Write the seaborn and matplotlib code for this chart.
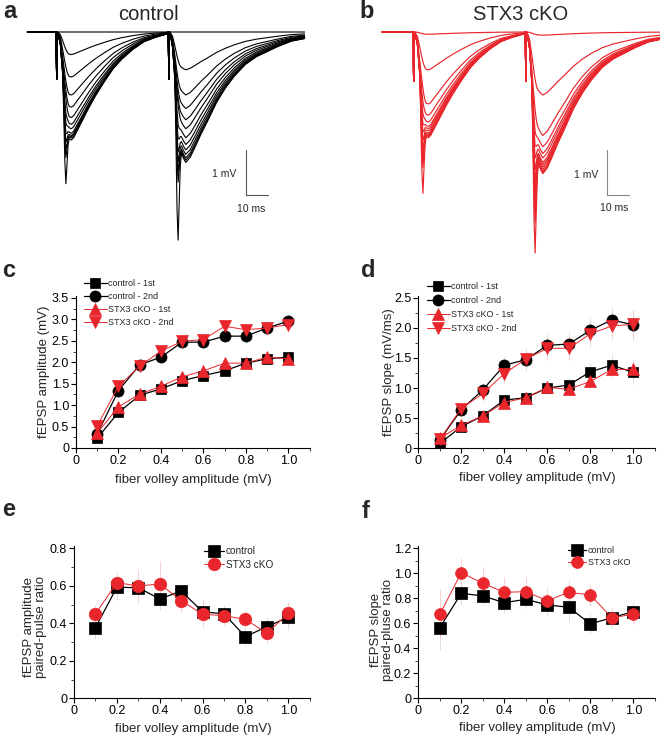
import numpy as np
import pandas as pd
import seaborn as sns
import matplotlib.pyplot as plt
from matplotlib.ticker import MultipleLocator, FuncFormatter

sns.set_style("ticks")
plt.rcParams["font.family"] = ["Liberation Sans", "DejaVu Sans"]

W, H = 660, 736
RED = "#e8262c"

# ---------------- example traces (a, b) ----------------
# normalised waveform shapes (ms after stimulus)
tmpl_t = [0, 0.3, 0.6, 1, 2, 3, 3.5, 4, 4.5, 5, 5.5, 6, 7, 8, 10, 12, 15, 18, 22, 26, 30, 35, 40, 45, 50, 56, 62]
shape1 = [0, 0, 0, -0.02, -0.12, -0.38, -0.52, -0.66, -0.78, -0.88, -0.95, -0.99, -1.0, -0.98, -0.9, -0.82,
          -0.70, -0.59, -0.46, -0.34, -0.25, -0.16, -0.09, -0.05, -0.02, -0.01, 0]
shape2 = [0, 0, 0, -0.02, -0.12, -0.36, -0.5, -0.63, -0.75, -0.84, -0.9, -0.93, -0.97, -1.0, -0.96, -0.89,
          -0.78, -0.68, -0.54, -0.43, -0.34, -0.25, -0.19, -0.15, -0.11, -0.07, -0.05]
spike_shape = [0, 0, 0, 0, 0, 0, -0.35, -0.85, -1.0, -0.55, -0.15, 0, 0, 0, 0, 0,
               0, 0, 0, 0, 0, 0, 0, 0, 0, 0, 0]
art_shape = [0, -1.0, 0, 0, 0, 0, 0, 0, 0, 0, 0, 0, 0, 0, 0, 0,
             0, 0, 0, 0, 0, 0, 0, 0, 0, 0, 0]
pulse_gap = 51

# per-trace amplitudes (mV): fEPSP and population spike, 1st and 2nd pulse
ctl_epsp1 = [0.0, 0.5, 1.0, 1.4, 1.67, 1.9, 2.05, 2.15, 2.25, 2.3, 2.33, 2.36, 2.4]
ctl_spike1 = [0, 0, 0, 0, 0, 0, 0.2, 0.35, 0.5, 0.65, 0.8, 0.95, 1.5]
ctl_epsp2 = [0.0, 0.84, 1.4, 1.7, 1.95, 2.15, 2.35, 2.5, 2.62, 2.72, 2.8, 2.85, 2.9]
ctl_spike2 = [0, 0, 0, 0, 0, 0, 0.3, 0.5, 0.7, 0.85, 1.0, 1.2, 2.45]
ctl_art = 1.05

stx_epsp1 = [0.05, 0.84, 1.6, 1.85, 2.0, 2.1, 2.15, 2.2, 2.25, 2.28, 2.3, 2.32, 2.35]
stx_spike1 = [0, 0, 0, 0.1, 0.25, 0.4, 0.55, 0.7, 0.85, 1.0, 1.1, 1.2, 1.75]
stx_epsp2 = [0.07, 1.4, 2.3, 2.55, 2.7, 2.8, 2.9, 2.95, 3.0, 3.05, 3.1, 3.12, 3.15]
stx_spike2 = [0, 0, 0, 0.3, 0.5, 0.7, 0.9, 1.1, 1.3, 1.5, 1.7, 1.9, 2.55]
stx_art = 1.1

# ---------------- input-output and paired-pulse data ----------------
fv = [0.1, 0.2, 0.3, 0.4, 0.5, 0.6, 0.7, 0.8, 0.9, 1.0]

amp_ctl_1st = [0.23, 0.83, 1.23, 1.38, 1.57, 1.69, 1.80, 1.98, 2.08, 2.12]
amp_ctl_2nd = [0.33, 1.34, 1.94, 2.12, 2.47, 2.47, 2.61, 2.61, 2.80, 2.96]
amp_stx_1st = [0.35, 0.96, 1.26, 1.44, 1.66, 1.80, 1.98, 1.98, 2.12, 2.08]
amp_stx_2nd = [0.52, 1.44, 1.91, 2.26, 2.49, 2.53, 2.84, 2.76, 2.80, 2.88]
amp_ctl_1st_err = [0.03, 0.06, 0.07, 0.08, 0.08, 0.09, 0.10, 0.10, 0.11, 0.12]
amp_ctl_2nd_err = [0.05, 0.10, 0.10, 0.12, 0.12, 0.13, 0.14, 0.15, 0.15, 0.16]
amp_stx_1st_err = [0.04, 0.07, 0.08, 0.09, 0.09, 0.10, 0.10, 0.11, 0.12, 0.12]
amp_stx_2nd_err = [0.06, 0.10, 0.12, 0.12, 0.13, 0.14, 0.14, 0.15, 0.16, 0.16]

slope_ctl_1st = [0.08, 0.36, 0.54, 0.80, 0.84, 1.00, 1.05, 1.27, 1.38, 1.26]
slope_ctl_2nd = [0.14, 0.64, 0.97, 1.38, 1.47, 1.71, 1.73, 1.96, 2.13, 2.05]
slope_stx_1st = [0.17, 0.38, 0.54, 0.76, 0.84, 1.01, 0.98, 1.11, 1.31, 1.31]
slope_stx_2nd = [0.15, 0.66, 0.91, 1.24, 1.48, 1.66, 1.66, 1.90, 2.03, 2.06]
slope_ctl_1st_err = [0.02, 0.05, 0.07, 0.08, 0.10, 0.10, 0.12, 0.15, 0.18, 0.20]
slope_ctl_2nd_err = [0.03, 0.08, 0.12, 0.15, 0.18, 0.20, 0.20, 0.20, 0.20, 0.25]
slope_stx_1st_err = [0.03, 0.06, 0.07, 0.08, 0.10, 0.10, 0.11, 0.13, 0.15, 0.16]
slope_stx_2nd_err = [0.04, 0.09, 0.12, 0.15, 0.18, 0.20, 0.20, 0.22, 0.22, 0.24]

ppr_amp_ctl = [0.377, 0.592, 0.590, 0.530, 0.572, 0.462, 0.450, 0.329, 0.382, 0.432]
ppr_amp_stx = [0.450, 0.617, 0.599, 0.610, 0.521, 0.448, 0.441, 0.421, 0.347, 0.453]
ppr_amp_ctl_err = [0.06, 0.07, 0.05, 0.06, 0.04, 0.06, 0.05, 0.05, 0.05, 0.07]
ppr_amp_stx_err = [0.05, 0.05, 0.09, 0.12, 0.06, 0.07, 0.05, 0.05, 0.05, 0.06]

ppr_slope_ctl = [0.565, 0.840, 0.819, 0.765, 0.792, 0.747, 0.728, 0.595, 0.645, 0.693]
ppr_slope_stx = [0.672, 1.005, 0.920, 0.848, 0.853, 0.781, 0.848, 0.827, 0.645, 0.672]
ppr_slope_ctl_err = [0.18, 0.09, 0.07, 0.08, 0.07, 0.08, 0.12, 0.08, 0.06, 0.08]
ppr_slope_stx_err = [0.20, 0.12, 0.13, 0.12, 0.12, 0.10, 0.10, 0.09, 0.08, 0.08]


def build_traces(epsp1, spike1, epsp2, spike2, art, t_start):
    rows = []
    for i in range(len(epsp1)):
        rows.append((i, t_start, 0.0))
        for t, s1, sp, a in zip(tmpl_t, shape1, spike_shape, art_shape):
            if t <= 50:
                rows.append((i, t, epsp1[i] * s1 + spike1[i] * sp + art * a))
        for t, s2, sp, a in zip(tmpl_t, shape2, spike_shape, art_shape):
            rows.append((i, t + pulse_gap, epsp2[i] * s2 + spike2[i] * sp + art * a))
    return pd.DataFrame(rows, columns=["trace", "t", "mV"])


fig = plt.figure(figsize=(W / 100, H / 100), dpi=100)


def add_ax(x0, y0, x1, y1):
    return fig.add_axes([x0 / W, 1 - y1 / H, (x1 - x0) / W, (y1 - y0) / H])


def ftext(x, y, s, **kw):
    fig.text(x / W, 1 - y / H, s, **kw)


# ---- a / b ----
ctl_df = build_traces(ctl_epsp1, ctl_spike1, ctl_epsp2, ctl_spike2, ctl_art, -13)
stx_df = build_traces(stx_epsp1, stx_spike1, stx_epsp2, stx_spike2, stx_art, -14)

axa = add_ax(20, 0, 330, 270)
sns.lineplot(data=ctl_df, x="t", y="mV", units="trace", estimator=None, sort=False,
             color="black", lw=0.8, ax=axa)
axa.set_xlim((20 - 56) / 2.2, (330 - 56) / 2.2)
axa.set_ylim(-(270 - 32) / 45, 32 / 45)
axa.plot([86.4, 86.4, 96.4], [-2.62, -3.62, -3.62], color="#555555", lw=0.8)
axa.axis("off")

axb = add_ax(375, 0, 660, 270)
sns.lineplot(data=stx_df, x="t", y="mV", units="trace", estimator=None, sort=False,
             color=RED, lw=0.85, ax=axb)
axb.set_xlim((375 - 413) / 2.2, (660 - 413) / 2.2)
axb.set_ylim(-(270 - 32) / 45, 32 / 45)
axb.plot([88.2, 88.2, 98.2], [-2.62, -3.62, -3.62], color="#888888", lw=0.8)
axb.axis("off")

ftext(148, 14, "control", fontsize=14.5, ha="center", va="center")
ftext(521, 14, "STX3 cKO", fontsize=14.5, ha="center", va="center")
ftext(236, 174, "1 mV", fontsize=7.5, ha="right", va="center")
ftext(251, 209, "10 ms", fontsize=7.5, ha="center", va="center")
ftext(598, 175, "1 mV", fontsize=7.5, ha="right", va="center")
ftext(614, 208, "10 ms", fontsize=7.5, ha="center", va="center")

for lab, x, y in [("a", 10, 12), ("b", 367, 12), ("c", 9, 271), ("d", 368, 271), ("e", 9, 510), ("f", 366, 511)]:
    ftext(x, y, lab, fontsize=17, fontweight="bold", ha="center", va="center")

fmt = FuncFormatter(lambda v, p: "0" if abs(v) < 1e-9 else f"{v:.1f}")


def style_axis(ax, ylim, ymajor, yminor):
    ax.set_xlim(0, 1.1)
    ax.set_ylim(*ylim)
    ax.xaxis.set_major_locator(MultipleLocator(0.2))
    ax.xaxis.set_minor_locator(MultipleLocator(0.1))
    ax.yaxis.set_major_locator(MultipleLocator(ymajor))
    ax.yaxis.set_minor_locator(MultipleLocator(yminor))
    ax.xaxis.set_major_formatter(fmt)
    ax.yaxis.set_major_formatter(fmt)
    ax.tick_params(which="major", direction="out", length=3.5, width=0.8, pad=1.5, labelsize=9, colors="black")
    ax.tick_params(which="minor", direction="out", length=2, width=0.6)
    sns.despine(ax=ax)
    for sp in ("left", "bottom"):
        ax.spines[sp].set_linewidth(0.8)
        ax.spines[sp].set_color("black")
    ax.set_xlabel("")
    ax.set_ylabel("")


def draw_series(ax, series):
    for vals, err, color, ecol, marker, ms, lw, label in series:
        ax.errorbar(fv, vals, yerr=err, fmt="none", ecolor=ecol, elinewidth=0.6, capsize=0, zorder=1)
        sns.lineplot(x=fv, y=vals, ax=ax, color=color, lw=lw, marker=marker, markersize=ms,
                     markeredgecolor=color, markeredgewidth=0.5, label=label, errorbar=None)


def add_legend(ax, x, y, fs, hl, ls):
    ax.legend(loc="upper left", bbox_to_anchor=(x / W, 1 - y / H), bbox_transform=fig.transFigure,
              frameon=False, fontsize=fs, handlelength=hl, handletextpad=0.2, labelspacing=ls,
              borderpad=0, borderaxespad=0)


GREY_ERR = "#d9d9d9"
PINK_ERR = "#f7c9c9"

# ---- c ----
axc = add_ax(76, 448 - 150 * 3.55 / 3.5, 76 + 212.3 * 1.1, 448)
draw_series(axc, [
    (amp_ctl_1st, amp_ctl_1st_err, "black", GREY_ERR, "s", 7.5, 0.9, "control - 1st"),
    (amp_ctl_2nd, amp_ctl_2nd_err, "black", GREY_ERR, "o", 8, 0.9, "control - 2nd"),
    (amp_stx_1st, amp_stx_1st_err, RED, PINK_ERR, "^", 8.5, 0.7, "STX3 cKO - 1st"),
    (amp_stx_2nd, amp_stx_2nd_err, RED, PINK_ERR, "v", 8.5, 0.7, "STX3 cKO - 2nd"),
])
style_axis(axc, (0, 3.55), 0.5, 0.25)
add_legend(axc, 84, 279, 6.5, 2.5, 0.45)
axc.text(-0.137, 0.5, "fEPSP amplitude (mV)", transform=axc.transAxes, rotation=90,
         ha="center", va="center", fontsize=9.5)
ftext(193, 480, "fiber volley amplitude (mV)", fontsize=9.5, ha="center", va="center")

# ---- d ----
axd = add_ax(418.3, 448.3 - 60.24 * 2.53, 418.3 + 215 * 1.1, 448.3)
draw_series(axd, [
    (slope_ctl_1st, slope_ctl_1st_err, "black", GREY_ERR, "s", 7.5, 0.9, "control - 1st"),
    (slope_ctl_2nd, slope_ctl_2nd_err, "black", GREY_ERR, "o", 8, 0.9, "control - 2nd"),
    (slope_stx_1st, slope_stx_1st_err, RED, PINK_ERR, "^", 8.5, 0.7, "STX3 cKO - 1st"),
    (slope_stx_2nd, slope_stx_2nd_err, RED, PINK_ERR, "v", 8.5, 0.7, "STX3 cKO - 2nd"),
])
style_axis(axd, (0, 2.53), 0.5, 0.25)
add_legend(axd, 427, 282, 6.5, 2.5, 0.55)
ftext(389, 372, "fEPSP slope (mV/ms)", fontsize=9.5, ha="center", va="center", rotation=90)
ftext(537, 478, "fiber volley amplitude (mV)", fontsize=9.5, ha="center", va="center")

# ---- e ----
axe = add_ax(74, 698.3 - 187.5 * 0.81, 74 + 214.3 * 1.1, 698.3)
draw_series(axe, [
    (ppr_amp_ctl, ppr_amp_ctl_err, "black", GREY_ERR, "s", 8.5, 0.9, "control"),
    (ppr_amp_stx, ppr_amp_stx_err, RED, PINK_ERR, "o", 9, 0.7, "STX3 cKO"),
])
style_axis(axe, (0, 0.81), 0.2, 0.1)
add_legend(axe, 204, 546, 7.2, 2.0, 0.35)
ftext(35, 627, "fEPSP amplitude\npaired-pulse ratio", fontsize=9.5, ha="center", va="center",
      rotation=90, linespacing=1.05)
ftext(193, 729, "fiber volley amplitude (mV)", fontsize=9.5, ha="center", va="center")

# ---- f ----
axf = add_ax(418.3, 698.3 - 125 * 1.215, 418.3 + 215 * 1.1, 698.3)
draw_series(axf, [
    (ppr_slope_ctl, ppr_slope_ctl_err, "black", GREY_ERR, "s", 8, 0.9, "control"),
    (ppr_slope_stx, ppr_slope_stx_err, RED, PINK_ERR, "o", 8.5, 0.7, "STX3 cKO"),
])
style_axis(axf, (0, 1.215), 0.2, 0.1)
add_legend(axf, 568, 546, 6.5, 2.0, 0.3)
ftext(382, 630, "fEPSP slope\npaired-pluse ratio", fontsize=9.5, ha="center", va="center",
      rotation=90, linespacing=1.05)
ftext(537, 728, "fiber volley amplitude (mV)", fontsize=9.5, ha="center", va="center")

fig.savefig("out.png", dpi=100)
